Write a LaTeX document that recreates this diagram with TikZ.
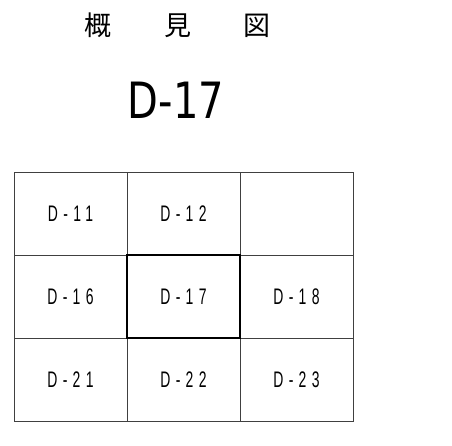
\documentclass[tikz,border=0pt]{standalone}
\usepackage{fontspec}
\setmainfont{Liberation Sans}
\newfontfamily\jpfont{Noto Sans CJK JP}
\newfontfamily\cellfont[LetterSpace=38]{Liberation Sans}
\newfontfamily\titlefont{DejaVu Sans}
\newcommand{\celllab}[1]{\scalebox{0.62}[1]{\cellfont\fontsize{22.5}{22.5}\selectfont #1}}
\begin{document}
\begin{tikzpicture}[x=1pt,y=-1pt,
  cell/.style={draw=black!75,line width=0.9pt,minimum width=113pt,minimum height=83pt,inner sep=0pt,anchor=center},
  centercell/.style={cell,draw=black,line width=1.3pt},
  jp/.style={font=\jpfont\fontsize{27}{27}\selectfont}]
\useasboundingbox (0,0) rectangle (452,446);
\fill[white] (0,0) rectangle (452,446);
% heading
\node[jp] (k1) at (98,25.5) {概};
\node[jp] (k2) at (178,25.5) {見};
\node[jp] (k3) at (257,25.5) {図};
\node (title) at (176,100) {\scalebox{0.8}[1]{\titlefont\fontsize{50}{50}\selectfont D-17}};
% grid
\node[cell] (c11) at (70.5,213.5) {\celllab{D-11}};
\node[cell] (c12) at (183.5,213.5) {\celllab{D-12}};
\node[cell] (c13) at (296.5,213.5) {};
\node[cell] (c16) at (70.5,296.5) {\celllab{D-16}};
\node[cell] (c18) at (296.5,296.5) {\celllab{D-18}};
\node[cell] (c21) at (70.5,379.5) {\celllab{D-21}};
\node[cell] (c22) at (183.5,379.5) {\celllab{D-22}};
\node[cell] (c23) at (296.5,379.5) {\celllab{D-23}};
\node[centercell] (c17) at (183.5,296.5) {\celllab{D-17}};
\end{tikzpicture}
\end{document}
